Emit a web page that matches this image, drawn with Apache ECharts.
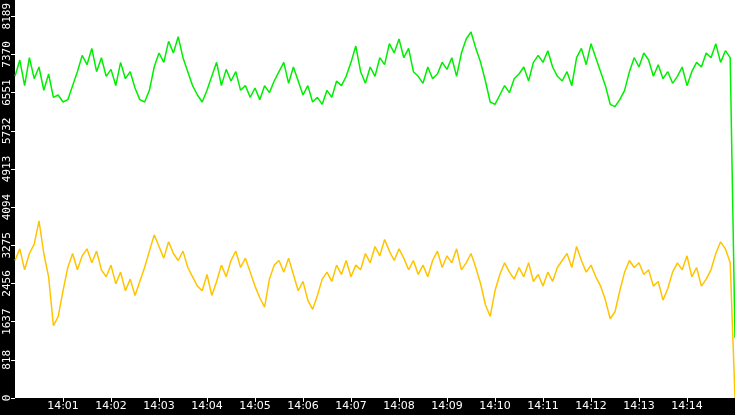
<!DOCTYPE html>
<html><head><meta charset="utf-8">
<script src="https://cdn.jsdelivr.net/npm/echarts@6/dist/echarts.min.js"></script>
<style>html,body{margin:0;padding:0;background:#fff}#c{width:735px;height:415px}</style>
</head><body><div id="c"></div>
<script>
const stepSeconds = 6;
const greenValues = [6900,7250,6700,7300,6850,7100,6600,6950,6450,6500,6350,6400,6700,7000,7350,7150,7500,7000,7300,6900,
7050,6700,7200,6850,7000,6650,6400,6350,6600,7100,7400,7200,7650,7400,7750,7300,7000,6700,6500,6350,
6600,6900,7200,6700,7050,6800,7000,6600,6700,6450,6650,6400,6700,6550,6800,7000,7200,6750,7100,6800,
6500,6700,6350,6450,6300,6600,6450,6800,6700,6900,7200,7550,7000,6750,7100,6900,7300,7150,7600,7400,
7700,7300,7500,7000,6900,6750,7100,6850,6950,7200,7050,7300,6900,7400,7700,7850,7500,7200,6800,6350,
6300,6500,6700,6550,6850,6950,7100,6800,7200,7350,7200,7450,7100,6900,6800,7000,6700,7300,7500,7150,
7600,7300,7000,6700,6300,6250,6400,6600,7000,7300,7100,7400,7250,6900,7150,6850,7000,6750,6900,7100,
6700,7000,7200,7100,7400,7300,7600,7200,7450,7300,1290];
const yellowValues = [2950,3200,2750,3100,3300,3800,3100,2600,1550,1750,2300,2800,3100,2750,3050,3200,2900,3150,2750,2600,
2850,2450,2700,2300,2550,2200,2500,2800,3150,3500,3250,3000,3350,3100,2950,3150,2800,2600,2400,2300,
2650,2200,2500,2850,2600,2950,3150,2800,3000,2700,2400,2150,1950,2550,2850,2950,2700,3000,2650,2300,
2500,2100,1900,2200,2550,2700,2500,2850,2650,2950,2600,2850,2750,3100,2900,3250,3050,3400,3150,2950,
3200,3000,2750,2950,2650,2850,2600,2950,3150,2800,3050,2900,3200,2750,2900,3100,2800,2450,2000,1750,
2300,2650,2900,2700,2550,2800,2600,2900,2500,2650,2400,2700,2500,2800,2950,3100,2800,3250,2950,2700,
2850,2600,2400,2100,1700,1850,2300,2700,2950,2800,2900,2650,2750,2400,2500,2100,2350,2700,2900,2750,
3050,2600,2800,2400,2550,2750,3100,3350,3200,2900,0];
const yTickStep = 818.9;
const yMax = 8314;
const hourLabel = '14';

const toPairs = arr => arr.map((v,i)=>[i*stepSeconds, v]);
const chart = echarts.init(document.getElementById('c'));
chart.setOption({
  animation:false,
  backgroundColor:'#fff',
  graphic:[
    {type:'rect',z:-10,shape:{x:0,y:0,width:15,height:415},style:{fill:'#000'}},
    {type:'rect',z:-10,shape:{x:0,y:398,width:735,height:17},style:{fill:'#000'}}
  ],
  grid:{left:15,right:0,top:0,bottom:17},
  xAxis:{type:'value',min:0,max:900,interval:60,
    axisLine:{show:false},
    axisTick:{show:true,length:4,lineStyle:{color:'#fff'}},
    splitLine:{show:false},
    axisLabel:{color:'#fff',fontFamily:'DejaVu Sans',fontSize:11,margin:3,showMinLabel:false,showMaxLabel:false,
      formatter:v=>hourLabel+':'+String(Math.round(v/60)).padStart(2,'0')}},
  yAxis:{type:'value',min:0,max:yMax,interval:yTickStep,
    axisLine:{show:false},
    axisTick:{show:true,length:4,lineStyle:{color:'#fff'}},
    splitLine:{show:false},
    axisLabel:{color:'#fff',fontFamily:'DejaVu Sans Mono',fontSize:11,rotate:90,margin:2,showMaxLabel:false,
      formatter:v=>String(Math.floor(v+1e-6))}},
  series:[
    {type:'line',data:toPairs(greenValues),showSymbol:false,lineStyle:{color:'#00ee00',width:1.5},itemStyle:{color:'#00ee00'}},
    {type:'line',data:toPairs(yellowValues),showSymbol:false,lineStyle:{color:'#ffc400',width:1.5},itemStyle:{color:'#ffc400'}}
  ]
});
</script></body></html>
